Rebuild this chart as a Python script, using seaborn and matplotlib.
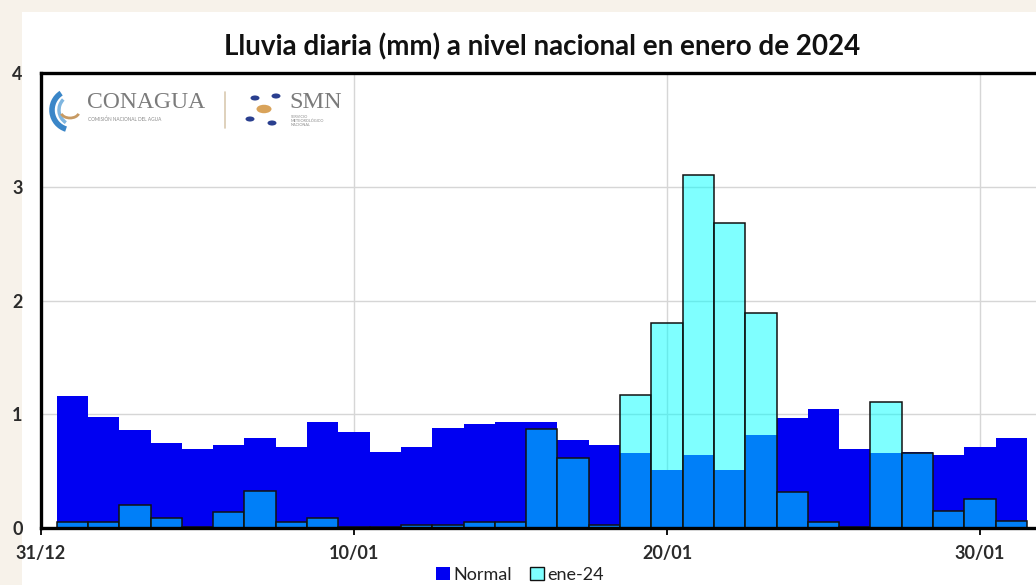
import matplotlib
matplotlib.use("Agg")
import matplotlib.pyplot as plt
from matplotlib.patches import Patch, Rectangle, Arc, Circle
from matplotlib.lines import Line2D
import pandas as pd
import seaborn as sns

# Daily national rainfall, January 2024 (mm)
days = list(range(1, 32))
normal = [1.16, 0.98, 0.86, 0.745, 0.695, 0.73, 0.79, 0.71, 0.93, 0.845,
          0.665, 0.71, 0.88, 0.915, 0.93, 0.93, 0.775, 0.73, 0.66, 0.51,
          0.645, 0.51, 0.815, 0.97, 1.05, 0.695, 0.66, 0.67, 0.645, 0.71, 0.795]
ene24 = [0.05, 0.05, 0.20, 0.085, 0.01, 0.14, 0.325, 0.05, 0.085, 0.01,
         0.01, 0.03, 0.03, 0.05, 0.05, 0.87, 0.615, 0.03, 1.165, 1.80,
         3.10, 2.68, 1.89, 0.315, 0.055, 0.01, 1.11, 0.655, 0.15, 0.255, 0.065]
tick_days = [0, 10, 20, 30]
tick_labels = ["31/12", "10/01", "20/01", "30/01"]
y_ticks = [0, 1, 2, 3, 4]
series_names = ["Normal", "ene-24"]
title = "Lluvia diaria (mm) a nivel nacional en enero de 2024"

df = pd.DataFrame({"dia": days, "normal": normal, "ene24": ene24})

W, H = 1036, 585
BLUE = "#0000F2"
CYAN_FILL = (0.0, 1.0, 1.0, 0.5)

sns.set_theme(style="white")
plt.rcParams["font.family"] = ["Lato", "DejaVu Sans"]


def fx(x):
    return x / W


def fy(y):
    return 1 - y / H


fig = plt.figure(figsize=(W / 100, H / 100), dpi=100)
fig.patch.set_facecolor("#f7f2ea")
fig.add_artist(Rectangle((fx(22), 0), 1, fy(12), transform=fig.transFigure,
                         facecolor="white", edgecolor="none", zorder=0))

# plot area: day 0 at the left spine, 31.3 px per day
left_px, px_per_day = 41, 31.3
top_px, bottom_px = 73, 528
ax = fig.add_axes([fx(left_px), fy(bottom_px),
                   32 * px_per_day / W, (bottom_px - top_px) / H])

sns.barplot(data=df, x="dia", y="normal", native_scale=True, width=1.0,
            color=BLUE, saturation=1, edgecolor="none", linewidth=0,
            errorbar=None, ax=ax)
sns.barplot(data=df, x="dia", y="ene24", native_scale=True, width=1.0,
            color="cyan", saturation=1, edgecolor="black", linewidth=1.1,
            errorbar=None, ax=ax)
for bar in ax.containers[1]:
    bar.set_facecolor(CYAN_FILL)
    bar.set_edgecolor("#111111")

ax.set_xlim(0, 32)
ax.set_ylim(0, 4)
ax.set_xlabel("")
ax.set_ylabel("")
ax.set_xticks(tick_days, tick_labels)
ax.set_yticks(y_ticks, [str(v) for v in y_ticks])
ax.set_axisbelow(True)
ax.grid(True, color="#d6d6d6", linewidth=1.0)

for side in ["top", "left", "bottom"]:
    ax.spines[side].set_color("black")
    ax.spines[side].set_linewidth(2.4)
ax.spines["right"].set_visible(False)

ax.tick_params(axis="x", length=5, width=1.3, color="black", bottom=True,
               direction="out", pad=7, labelsize=13, labelcolor="#2b2b2b")
ax.tick_params(axis="y", length=0, pad=17, labelsize=13, labelcolor="#2b2b2b")
for lab in ax.get_xticklabels() + ax.get_yticklabels():
    lab.set_fontweight("bold")
for lab in ax.get_yticklabels():
    lab.set_horizontalalignment("center")

fig.text(fx(542), fy(47), title, ha="center", va="center",
         fontsize=20, fontweight="bold", color="#111111")

# institutional logos in the upper-left corner
fig.add_artist(Arc((fx(72), fy(110)), fx(40), 40 / H, theta1=110, theta2=260,
                   transform=fig.transFigure, color="#3a86c8", lw=4))
fig.add_artist(Arc((fx(74), fy(110)), fx(30), 30 / H, theta1=120, theta2=250,
                   transform=fig.transFigure, color="#7fb6e0", lw=2.5))
fig.add_artist(Arc((fx(70), fy(112)), fx(18), 12 / H, theta1=200, theta2=340,
                   transform=fig.transFigure, color="#c79a63", lw=2.0))
fig.text(fx(87), fy(103), "CONAGUA", ha="left", va="center",
         fontsize=17, family=["Liberation Serif", "DejaVu Serif"], color="#7b7b7b")
fig.text(fx(88), fy(119), "COMISIÓN NACIONAL DEL AGUA", ha="left", va="center",
         fontsize=3.4, color="#8a8a8a")
fig.add_artist(Line2D([fx(225), fx(225)], [fy(92), fy(128)],
                      transform=fig.transFigure, color="#d9c9b0", lw=1.2))
for cx, cy, r, col in [(255, 98, 4.5, "#2a3f8f"), (276, 96, 4.5, "#2a3f8f"),
                       (250, 119, 4.5, "#2a3f8f"), (272, 123, 4.5, "#2a3f8f"),
                       (264, 109, 7.5, "#d9a35a")]:
    fig.add_artist(Circle((fx(cx), fy(cy)), r / W, transform=fig.transFigure,
                          facecolor=col, edgecolor="none"))
fig.text(fx(289), fy(103), "SMN", ha="left", va="center",
         fontsize=17.5, family=["Liberation Serif", "DejaVu Serif"], color="#7b7b7b")
fig.text(fx(291), fy(121), "SERVICIO\nMETEOROLÓGICO\nNACIONAL", ha="left",
         va="center", fontsize=2.8, color="#8a8a8a", linespacing=1.0)

handles = [Patch(facecolor=BLUE, edgecolor="none"),
           Patch(facecolor=CYAN_FILL, edgecolor="#111111", linewidth=1.0)]
fig.legend(handles, series_names, loc="center", bbox_to_anchor=(fx(520), fy(575)),
           ncol=2, frameon=False, handlelength=0.75, handleheight=0.75,
           handletextpad=0.2, columnspacing=1.0, fontsize=13,
           labelcolor="#222222")

fig.savefig("out.png", dpi=100, facecolor=fig.get_facecolor())
